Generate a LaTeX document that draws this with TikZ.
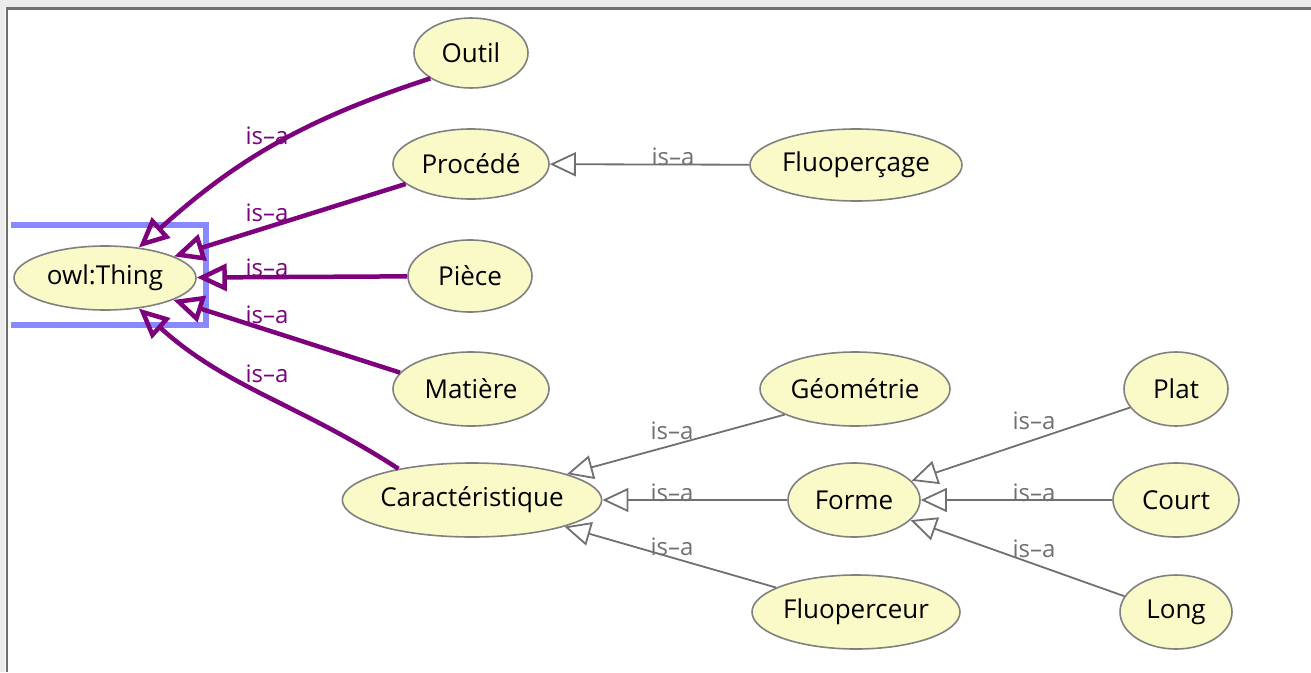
\documentclass[tikz,border=0pt]{standalone}
\usepackage{fontspec}
\setmainfont{Open Sans}
\usetikzlibrary{shapes.geometric,arrows.meta}
\definecolor{nodefill}{RGB}{250,250,200}
\definecolor{nodeline}{RGB}{128,128,128}
\definecolor{isapurple}{RGB}{125,0,125}
\definecolor{isagray}{RGB}{112,112,112}
\definecolor{selblue}{RGB}{136,136,255}
\definecolor{framelight}{RGB}{235,235,235}
\definecolor{framedark}{RGB}{110,110,110}
\tikzset{
  cls/.style={ellipse, draw=nodeline, line width=1.6pt, fill=nodefill, inner sep=0pt,
    font=\fontsize{26}{30}\selectfont, text=black},
  topedge/.style={draw=isapurple, line width=4.5pt,
    -{Triangle[open, length=30pt, width=27pt]}},
  subedge/.style={draw=isagray, line width=1.8pt,
    -{Triangle[open, length=26pt, width=24pt]}},
  toplbl/.style={text=isapurple, font=\fontsize{24}{28}\selectfont, inner sep=0pt},
  sublbl/.style={text=isagray, font=\fontsize{24}{28}\selectfont, inner sep=0pt},
}
\begin{document}
\begin{tikzpicture}[x=1pt,y=-1pt]
\useasboundingbox (0,0) rectangle (1311,672);
% window frame
\fill[framelight] (0,0) rectangle (1311,7);
\fill[framelight] (0,0) rectangle (5,672);
\draw[framedark, line width=2.5pt] (7,672) -- (7,8.5) -- (1311,8.5);
% selection highlight
\draw[selblue, line width=6.5pt] (11,225) -- (206,225) -- (206,325) -- (11,325);
% nodes
\node[cls, minimum width=182pt, minimum height=64pt] (thing) at (105,278) {owl:Thing};
\node[cls, minimum width=114pt, minimum height=70pt] (outil) at (471,53) {Outil};
\node[cls, minimum width=156pt, minimum height=70pt] (procede) at (471,164) {Procédé};
\node[cls, minimum width=212pt, minimum height=72pt] (fluopercage) at (856,165) {Fluoperçage};
\node[cls, minimum width=124pt, minimum height=72pt] (piece) at (470,276) {Pièce};
\node[cls, minimum width=156pt, minimum height=74pt] (matiere) at (471,389) {Matière};
\node[cls, minimum width=254pt, minimum height=74pt] (caract) at (472,500) {Caractéristique};
\node[cls, minimum width=190pt, minimum height=74pt] (geometrie) at (855,389) {Géométrie};
\node[cls, minimum width=132pt, minimum height=74pt] (forme) at (854,500) {Forme};
\node[cls, minimum width=208pt, minimum height=74pt] (fluoperceur) at (856,612) {Fluoperceur};
\node[cls, minimum width=104pt, minimum height=74pt] (plat) at (1176,389) {Plat};
\node[cls, minimum width=126pt, minimum height=74pt] (court) at (1176,500) {Court};
\node[cls, minimum width=112pt, minimum height=74pt] (long) at (1176,612) {Long};
% purple is-a edges
\draw[topedge] (outil.212) to[out=198, in=42] (thing.42);
\draw[topedge] (procede.197) -- (thing);
\draw[topedge] (piece) -- (thing);
\draw[topedge] (matiere.167) -- (thing);
\draw[topedge] (caract.157) to[out=147, in=-42] (thing.-42);
% gray is-a edges
\draw[subedge] (fluopercage) -- (procede);
\draw[subedge] (geometrie.200) -- (caract);
\draw[subedge] (forme) -- (caract);
\draw[subedge] (fluoperceur.163) -- (caract);
\draw[subedge] (plat.202) -- (forme);
\draw[subedge] (court) -- (forme);
\draw[subedge] (long.163) -- (forme);
% labels
\node[toplbl] (l1) at (267,136) {is–a};
\node[toplbl] (l2) at (267,213) {is–a};
\node[toplbl] (l3) at (267,268) {is–a};
\node[toplbl] (l4) at (267,315) {is–a};
\node[toplbl] (l5) at (267,374) {is–a};
\node[sublbl] (l6) at (673,157) {is–a};
\node[sublbl] (l7) at (672,431) {is–a};
\node[sublbl] (l8) at (672,493) {is–a};
\node[sublbl] (l9) at (672,547) {is–a};
\node[sublbl] (l10) at (1034,421) {is–a};
\node[sublbl] (l11) at (1034,493) {is–a};
\node[sublbl] (l12) at (1034,549) {is–a};
\end{tikzpicture}
\end{document}
